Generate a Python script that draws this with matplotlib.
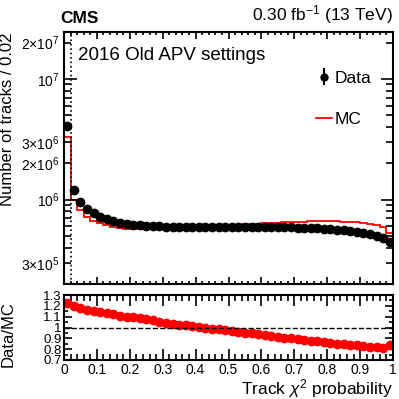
import numpy as np
import matplotlib
matplotlib.use("Agg")
import matplotlib.pyplot as plt
from matplotlib.lines import Line2D

plt.rcParams["font.family"] = ["Liberation Sans", "DejaVu Sans"]
plt.rcParams["mathtext.fontset"] = "custom"
plt.rcParams["mathtext.rm"] = "Liberation Sans"
plt.rcParams["mathtext.it"] = "Liberation Sans:italic"

# bin edges: 50 bins of width 0.02 in track chi2 probability
bin_edges = np.linspace(0, 1, 51)
bin_centers = 0.5 * (bin_edges[:-1] + bin_edges[1:])

# tracks per bin
data_counts = np.array([
    40.7e5, 12.0e5, 9.6e5, 8.4e5, 7.7e5, 7.25e5, 6.9e5, 6.62e5, 6.45e5, 6.32e5,
    6.22e5, 6.14e5, 6.08e5, 6.03e5, 6.00e5, 5.98e5, 5.96e5, 5.95e5, 5.94e5, 5.94e5,
    5.94e5, 5.94e5, 5.94e5, 5.94e5, 5.94e5, 5.94e5, 5.94e5, 5.94e5, 5.93e5, 5.93e5,
    5.93e5, 5.92e5, 5.91e5, 5.90e5, 5.88e5, 5.86e5, 5.84e5, 5.81e5, 5.78e5, 5.74e5,
    5.70e5, 5.64e5, 5.57e5, 5.49e5, 5.40e5, 5.29e5, 5.16e5, 5.01e5, 4.80e5, 4.42e5,
])
mc_counts = np.array([
    33.1e5, 10.0e5, 8.14e5, 7.21e5, 6.70e5, 6.36e5, 6.11e5, 5.91e5, 5.81e5, 5.75e5,
    5.69e5, 5.66e5, 5.66e5, 5.66e5, 5.69e5, 5.72e5, 5.75e5, 5.79e5, 5.82e5, 5.87e5,
    5.91e5, 5.95e5, 6.00e5, 6.05e5, 6.10e5, 6.14e5, 6.19e5, 6.23e5, 6.27e5, 6.32e5,
    6.36e5, 6.41e5, 6.45e5, 6.50e5, 6.53e5, 6.56e5, 6.59e5, 6.61e5, 6.63e5, 6.64e5,
    6.64e5, 6.62e5, 6.58e5, 6.54e5, 6.47e5, 6.39e5, 6.28e5, 6.13e5, 5.91e5, 5.29e5,
])
ratio = data_counts / mc_counts

ytick_vals = [3e5, 2e6, 3e6, 2e7]
ytick_text = [r"$3{\times}10^{5}$", r"$2{\times}10^{6}$", r"$3{\times}10^{6}$", r"$2{\times}10^{7}$"]

W = 399.0
fig = plt.figure(figsize=(3.99, 3.99), dpi=100)
ax = fig.add_axes([64 / W, 1 - 284 / W, 329 / W, 252 / W])
rax = fig.add_axes([64 / W, 1 - 360 / W, 329 / W, 65 / W])

# main panel
ax.stairs(mc_counts, bin_edges, baseline=None, color="red", lw=1.3, label="MC")
ax.plot(bin_centers, data_counts, "o", color="black", ms=6, label="Data")
ax.axvline(0.02, color="black", ls=":", lw=1.2)
ax.set_yscale("log")
ax.set_xlim(0, 1)
ax.set_ylim(2.27e5, 2.45e7)

ax.set_yticks([1e6, 1e7], [r"$10^{6}$", r"$10^{7}$"])
minor_pos = [m * 10 ** e for e in (5, 6) for m in range(2, 10)] + [2e7]
minor_lab = [ytick_text[ytick_vals.index(p)] if p in ytick_vals else "" for p in minor_pos]
ax.set_yticks(minor_pos, minor_lab, minor=True)
ax.set_xticks(np.arange(0, 1.01, 0.1))
ax.set_xticks(np.arange(0, 1.001, 0.02), minor=True)
ax.tick_params(axis="x", labelbottom=False)
ax.tick_params(which="both", direction="in", top=True, right=True, width=1.2, labelsize=10)
ax.tick_params(axis="x", which="major", length=5)
ax.tick_params(axis="x", which="minor", length=2.5)
ax.tick_params(axis="y", which="major", length=9)
ax.tick_params(axis="y", which="minor", length=5)
ax.set_ylabel("Number of tracks / 0.02", fontsize=12, loc="top")

ax.text(0.042, 0.905, "2016 Old APV settings", transform=ax.transAxes, fontsize=13.5, va="center")
ax.text(-0.01, 1.025, "CMS", transform=ax.transAxes, fontsize=12.5, fontweight="bold", va="bottom")
ax.text(1.0, 1.025, r"0.30 fb$^{-1}$ (13 TeV)", transform=ax.transAxes, fontsize=12.5,
        ha="right", va="bottom")

h_data = ax.errorbar([], [], yerr=[], fmt="o", color="black", ms=5)
h_mc = Line2D([], [], color="red", lw=1.3)
ax.legend([h_data, h_mc], ["Data", "MC"], loc="upper left", bbox_to_anchor=(0.745, 0.875),
          frameon=False, fontsize=12.5, handlelength=0.9, handletextpad=0.15,
          labelspacing=1.5, borderaxespad=0)

# ratio panel
rax.plot(bin_centers, ratio, "o", color="red", ms=6)
rax.axhline(1.0, color="black", ls="--", lw=1)
rax.set_xlim(0, 1)
rax.set_ylim(0.7, 1.3)
rax.set_yticks(np.arange(0.7, 1.31, 0.1), ["0.7", "0.8", "0.9", "1", "1.1", "1.2", "1.3"])
rax.set_yticks(np.arange(0.7, 1.31, 0.05), minor=True)
rax.set_xticks(np.arange(0, 1.01, 0.1), ["0", "0.1", "0.2", "0.3", "0.4", "0.5", "0.6", "0.7", "0.8", "0.9", "1"])
rax.set_xticks(np.arange(0, 1.001, 0.02), minor=True)
rax.tick_params(which="both", direction="in", top=True, right=True, width=1.2, labelsize=10, pad=2)
rax.tick_params(axis="y", labelsize=9.5, pad=1.5)
rax.tick_params(axis="x", which="major", length=8)
rax.tick_params(axis="x", which="minor", length=4)
rax.tick_params(axis="y", which="major", length=6)
rax.tick_params(axis="y", which="minor", length=3)
rax.set_ylabel("Data/MC", fontsize=12)
rax.set_xlabel(r"Track $\chi^{2}$ probability", fontsize=12.5, loc="right")

for a in (ax, rax):
    for s in a.spines.values():
        s.set_linewidth(1.5)

ax.yaxis.set_label_coords(-0.148, 1.0)
rax.yaxis.set_label_coords(-0.148, 0.4)
rax.xaxis.set_label_coords(1.0, -0.27)

fig.savefig("out.png", dpi=100)
